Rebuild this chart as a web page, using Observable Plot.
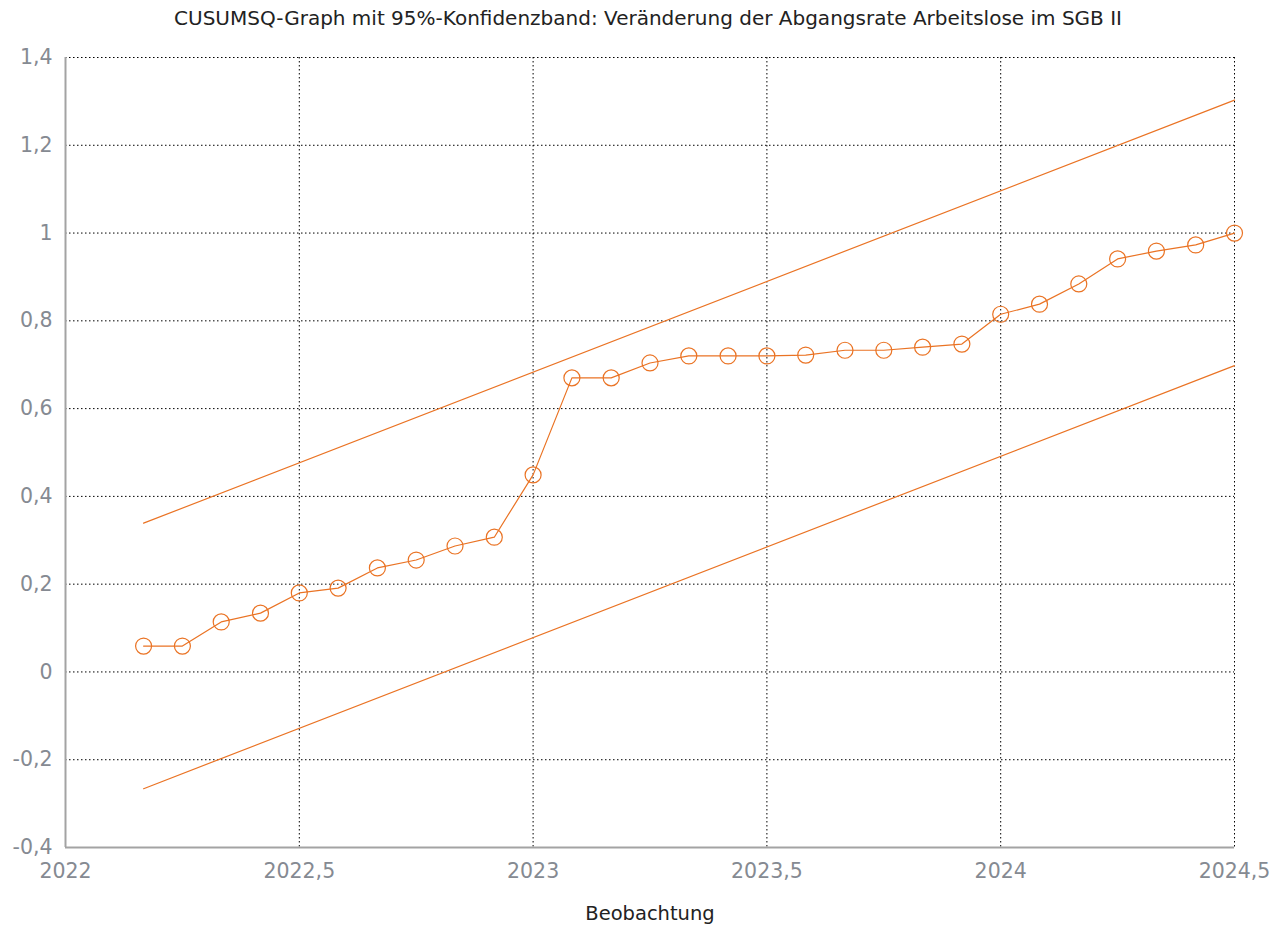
<!DOCTYPE html>
<html>
<head>
<meta charset="utf-8">
<script src="https://cdn.jsdelivr.net/npm/d3@7"></script>
<script src="https://cdn.jsdelivr.net/npm/@observablehq/plot@0.6"></script>
<style>
  html, body { margin: 0; padding: 0; background: #fff; }
  #title { height: 36px; line-height: 36px; text-align: center; font-family: "DejaVu Sans", sans-serif; font-size: 20px; color: #222; padding-left: 11px; white-space: nowrap; }
</style>
</head>
<body>
<div id="title">CUSUMSQ-Graph mit 95%-Konfidenzband: Veränderung der Abgangsrate Arbeitslose im SGB II</div>
<div id="chart"></div>
<script>
const obs = [2022.167, 2022.25, 2022.333, 2022.417, 2022.5, 2022.583, 2022.667, 2022.75, 2022.833, 2022.917,
             2023, 2023.083, 2023.167, 2023.25, 2023.333, 2023.417, 2023.5, 2023.583, 2023.667, 2023.75,
             2023.833, 2023.917, 2024, 2024.083, 2024.167, 2024.25, 2024.333, 2024.417, 2024.5];
const cusumsq = [0.059, 0.059, 0.114, 0.134, 0.180, 0.191, 0.237, 0.255, 0.287, 0.307,
                 0.449, 0.670, 0.670, 0.704, 0.720, 0.720, 0.720, 0.722, 0.733, 0.733,
                 0.740, 0.747, 0.815, 0.838, 0.884, 0.941, 0.959, 0.973, 1.000];
const bandX = [2022.167, 2024.5];
const upperBand = [0.339, 1.303];
const lowerBand = [-0.266, 0.698];
const xTicks = [2022, 2022.5, 2023, 2023.5, 2024, 2024.5];
const yTicks = [-0.4, -0.2, 0, 0.2, 0.4, 0.6, 0.8, 1, 1.2, 1.4];

const series = obs.map((x, i) => ({x, y: cusumsq[i]}));
const upper = bandX.map((x, i) => ({x, y: upperBand[i]}));
const lower = bandX.map((x, i) => ({x, y: lowerBand[i]}));

const fmt = d => String(+d.toFixed(1)).replace(".", ",");
const orange = "#ea7324";
const tickColor = "#858a92";

const chart = Plot.plot({
  width: 1285,
  height: 891,
  marginLeft: 65,
  marginRight: 51,
  marginTop: 21,
  marginBottom: 80,
  style: {fontFamily: "DejaVu Sans, sans-serif", background: "#fff"},
  x: {domain: [2022, 2024.5]},
  y: {domain: [-0.4, 1.4]},
  marks: [
    Plot.gridX(xTicks.slice(1), {stroke: "#000", strokeOpacity: 1, strokeWidth: 1, strokeDasharray: "1.5,2.5"}),
    Plot.gridY(yTicks.slice(1), {stroke: "#000", strokeOpacity: 1, strokeWidth: 1, strokeDasharray: "1.5,2.5"}),
    Plot.axisX(xTicks, {tickFormat: fmt, tickSize: 0, tickPadding: 16, fontSize: 20.5, fill: tickColor, label: null}),
    Plot.axisY(yTicks, {tickFormat: fmt, tickSize: 0, tickPadding: 13, fontSize: 20.5, fill: tickColor, label: null}),
    Plot.ruleX([2022], {stroke: "#a3a3a3", strokeWidth: 2}),
    Plot.ruleY([-0.4], {stroke: "#a3a3a3", strokeWidth: 2}),
    Plot.line(upper, {x: "x", y: "y", stroke: orange, strokeWidth: 1.2}),
    Plot.line(lower, {x: "x", y: "y", stroke: orange, strokeWidth: 1.2}),
    Plot.line(series, {x: "x", y: "y", stroke: orange, strokeWidth: 1.2}),
    Plot.dot(series, {x: "x", y: "y", r: 8, stroke: orange, fill: "none", strokeWidth: 1.2}),
    Plot.text(["Beobachtung"], {frameAnchor: "bottom", dy: 66, lineAnchor: "middle", fontSize: 19.5, fill: "#222"})
  ]
});
document.getElementById("chart").appendChild(chart);
</script>
</body>
</html>
